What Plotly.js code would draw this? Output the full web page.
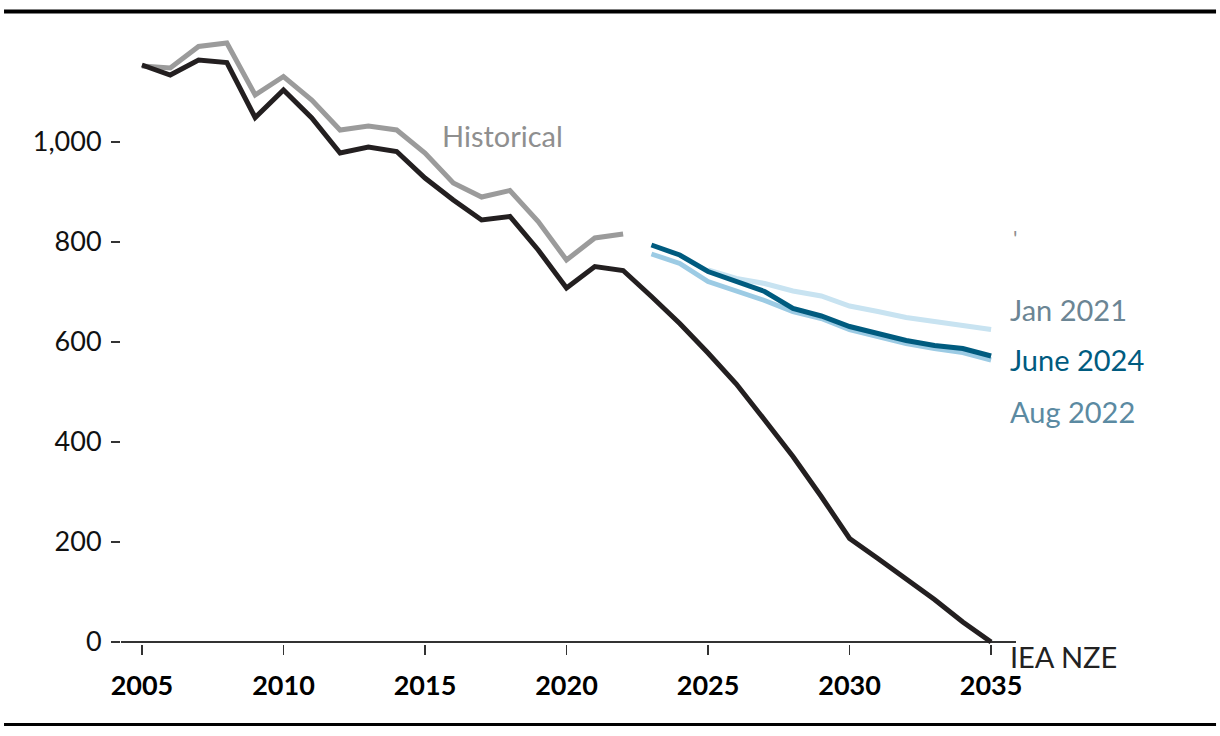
<!DOCTYPE html>
<html>
<head>
<meta charset="utf-8">
<script src="https://cdn.plot.ly/plotly-3.0.1.min.js"></script>
<style>html,body{margin:0;padding:0;background:#fff;}#chart{width:1220px;height:736px;}</style>
</head>
<body>
<div id="chart"></div>
<script>
const histYears = [2005,2006,2007,2008,2009,2010,2011,2012,2013,2014,2015,2016,2017,2018,2019,2020,2021,2022];
const historical = [1152,1148,1191,1198,1094,1131,1084,1024,1032,1024,978,918,890,903,841,764,808,816];

const nzeYears = [2005,2006,2007,2008,2009,2010,2011,2012,2013,2014,2015,2016,2017,2018,2019,2020,2021,2022,2023,2024,2025,2026,2027,2028,2029,2030,2031,2032,2033,2034,2035];
const ieaNze = [1154,1134,1164,1159,1049,1104,1048,978,990,981,928,884,844,851,784,708,751,743,691,637,578,516,444,371,291,207,167,127,85,40,0];

const projYears = [2023,2024,2025,2026,2027,2028,2029,2030,2031,2032,2033,2034,2035];
const june2024 = [794,774,741,721,701,667,652,631,617,603,593,587,572];
const aug2022 = [776,757,721,702,683,661,647,625,611,597,587,579,564];

const jan2021Years = [2025,2026,2027,2028,2029,2030,2031,2032,2033,2034,2035];
const jan2021 = [744,727,717,702,692,672,661,649,641,633,625];

const xTicks = [2005,2010,2015,2020,2025,2030,2035];
const yTicks = [0,200,400,600,800,1000];
const yTickText = ['0','200','400','600','800','1,000'];

const FONT = 'Lato, "Source Sans Pro", "Noto Sans", sans-serif';

const traces = [
  {x: jan2021Years, y: jan2021, mode:'lines', line:{color:'#c8e3f1', width:5}, hoverinfo:'skip'},
  {x: projYears, y: aug2022, mode:'lines', line:{color:'#9ccbe4', width:5}, hoverinfo:'skip'},
  {x: projYears, y: june2024, mode:'lines', line:{color:'#005b7f', width:5}, hoverinfo:'skip'},
  {x: histYears, y: historical, mode:'lines', line:{color:'#9b9b9b', width:5}, hoverinfo:'skip'},
  {x: nzeYears, y: ieaNze, mode:'lines', line:{color:'#231f20', width:5}, hoverinfo:'skip'}
];

const labelFont = (c) => ({family: FONT, size: 29, color: c});

const layout = {
  width: 1220, height: 736,
  margin: {l:121, r:204, t:30, b:92},
  paper_bgcolor:'#fff', plot_bgcolor:'#fff',
  showlegend:false,
  xaxis: {
    range:[2004.26, 2035.88],
    tickvals: xTicks, ticktext: xTicks.map(String),
    ticks:'outside', ticklen:10, tickwidth:1.5, tickcolor:'#333',
    showgrid:false, zeroline:false, showline:false,
    ticklabelstandoff: 8,
    tickfont:{family:FONT, size:27, color:'#000', weight:'bold'}
  },
  yaxis: {
    range:[-4, 1224],
    tickvals: yTicks, ticktext: yTickText,
    ticks:'outside', ticklen:9, tickwidth:1.5, tickcolor:'#333',
    showgrid:false, showline:false,
    zeroline:true, zerolinecolor:'#333', zerolinewidth:2.5,
    ticklabelstandoff: 4,
    tickfont:{family:FONT, size:27, color:'#111'}
  },
  shapes: [
    {type:'line', xref:'paper', yref:'paper', x0:-0.1307, x1:1.2235, y0:1.0301, y1:1.0301, line:{color:'#000', width:4}},
    {type:'line', xref:'paper', yref:'paper', x0:-0.1307, x1:1.2235, y0:-0.1311, y1:-0.1311, line:{color:'#000', width:3}}
  ],
  annotations: [
    {x:2015.53, y:1014, xref:'x', yref:'y', text:'Historical', showarrow:false, xanchor:'left', yanchor:'middle', font:labelFont('#8f8f8f')},
    {x:2035, y:666, xref:'x', yref:'y', xshift:17, text:'Jan 2021', showarrow:false, xanchor:'left', yanchor:'middle', font:labelFont('#6b8594')},
    {x:2035, y:566, xref:'x', yref:'y', xshift:17, text:'June 2024', showarrow:false, xanchor:'left', yanchor:'middle', font:labelFont('#005b7f')},
    {x:2035, y:462, xref:'x', yref:'y', xshift:17, text:'Aug 2022', showarrow:false, xanchor:'left', yanchor:'middle', font:labelFont('#5b8aa2')},
    {x:2035, y:0, xref:'x', yref:'y', xshift:17, yshift:-14, text:'IEA NZE', showarrow:false, xanchor:'left', yanchor:'middle', font:labelFont('#222')},
    {x:2035, y:810, xref:'x', yref:'y', xshift:20, text:"'", showarrow:false, xanchor:'left', yanchor:'middle', font:{family:FONT, size:22, color:'#8f8f8f'}}
  ]
};

Plotly.newPlot('chart', traces, layout, {staticPlot:true, displayModeBar:false});
</script>
</body>
</html>
